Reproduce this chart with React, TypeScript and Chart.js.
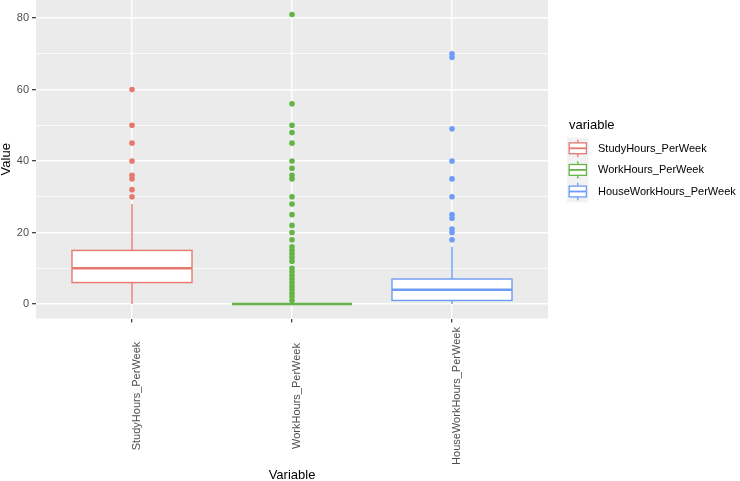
import React, { useEffect, useRef } from 'react';
import { Chart, registerables } from 'chart.js';

Chart.register(...registerables);

const categories = ['StudyHours_PerWeek', 'WorkHours_PerWeek', 'HouseWorkHours_PerWeek'];
const whiskerLow = [0, 0, 0];
const q1Values = [6, 0, 1];
const medianValues = [10, 0, 4];
const q3Values = [15, 0, 7];
const whiskerHigh = [28, 0, 16];
const studyOutliers = [30, 32, 35, 36, 40, 45, 50, 60];
const workOutliers = [1, 2, 3, 4, 5, 6, 7, 8, 9, 10, 12, 13, 14, 15, 16, 18, 20, 22, 25, 28, 30, 35, 36, 38, 40, 45, 48, 50, 56, 81];
const houseOutliers = [18, 20, 21, 24, 25, 30, 35, 40, 49, 69, 70];
const yTickValues = [0, 20, 40, 60, 80];
const yMinorValues = [10, 30, 50, 70];
const legendTitle = 'variable';
const xTitle = 'Variable';
const yTitle = 'Value';

const COLORS = ['#E5796F', '#65B446', '#6E9BF6'];
const FONT = '"Liberation Sans", Arial, Helvetica, sans-serif';

const outlierSets = [studyOutliers, workOutliers, houseOutliers];

const bgPlugin = {
  id: 'panelBg',
  beforeDraw(chart: any) {
    const { ctx, chartArea } = chart;
    ctx.save();
    ctx.fillStyle = '#FFFFFF';
    ctx.fillRect(0, 0, chart.width, chart.height);
    ctx.fillStyle = '#EBEBEB';
    ctx.fillRect(chartArea.left, chartArea.top, chartArea.right - chartArea.left, chartArea.bottom - chartArea.top);
    ctx.restore();
  },
};

const boxPlugin = {
  id: 'boxes',
  beforeDatasetsDraw(chart: any) {
    const { ctx, scales } = chart;
    const x = scales.x;
    const y = scales.y;
    ctx.save();
    categories.forEach((_, i) => {
      const cx = x.getPixelForValue(i + 1);
      const left = x.getPixelForValue(i + 1 - 0.375);
      const right = x.getPixelForValue(i + 1 + 0.375);
      const yLo = y.getPixelForValue(whiskerLow[i]);
      const yQ1 = y.getPixelForValue(q1Values[i]);
      const yMed = y.getPixelForValue(medianValues[i]);
      const yQ3 = y.getPixelForValue(q3Values[i]);
      const yHi = y.getPixelForValue(whiskerHigh[i]);
      ctx.strokeStyle = COLORS[i];
      ctx.lineWidth = 1.4;
      ctx.beginPath();
      ctx.moveTo(cx, yHi);
      ctx.lineTo(cx, yQ3);
      ctx.moveTo(cx, yQ1);
      ctx.lineTo(cx, yLo);
      ctx.stroke();
      ctx.fillStyle = '#FFFFFF';
      ctx.fillRect(left, yQ3, right - left, yQ1 - yQ3);
      ctx.strokeRect(left, yQ3, right - left, yQ1 - yQ3);
      ctx.lineWidth = 2.6;
      ctx.beginPath();
      ctx.moveTo(left, yMed);
      ctx.lineTo(right, yMed);
      ctx.stroke();
    });
    ctx.restore();
  },
};

const labelPlugin = {
  id: 'xLabels',
  afterDraw(chart: any) {
    const { ctx, scales, chartArea } = chart;
    const x = scales.x;
    ctx.save();
    ctx.fillStyle = '#4D4D4D';
    ctx.font = `11px ${FONT}`;
    ctx.textAlign = 'center';
    ctx.textBaseline = 'alphabetic';
    categories.forEach((c, i) => {
      const px = x.getPixelForValue(i + 1);
      ctx.save();
      ctx.translate(px + 8, chartArea.bottom + 77.5);
      ctx.rotate(-Math.PI / 2);
      ctx.fillText(c, 0, 0);
      ctx.restore();
    });
    ctx.restore();
  },
};

const legendPlugin = {
  id: 'boxLegend',
  afterDraw(chart: any) {
    const { ctx, chartArea } = chart;
    const lx = chartArea.right + 19;
    const cy = (chartArea.top + chartArea.bottom) / 2;
    const s = 21.6;
    const keysTop = cy - 21.75;
    ctx.save();
    ctx.fillStyle = '#000000';
    ctx.font = `13px ${FONT}`;
    ctx.textAlign = 'left';
    ctx.textBaseline = 'alphabetic';
    ctx.fillText(legendTitle, lx + 2, cy - 30);
    categories.forEach((c, i) => {
      const kt = keysTop + i * s;
      ctx.fillStyle = '#F2F2F2';
      ctx.fillRect(lx, kt, s, s);
      const bl = lx + 0.1 * s;
      const br = lx + 0.9 * s;
      const kcx = lx + s / 2;
      ctx.strokeStyle = COLORS[i];
      ctx.lineWidth = 1.3;
      ctx.beginPath();
      ctx.moveTo(kcx, kt + 0.1 * s);
      ctx.lineTo(kcx, kt + 0.25 * s);
      ctx.moveTo(kcx, kt + 0.75 * s);
      ctx.lineTo(kcx, kt + 0.9 * s);
      ctx.stroke();
      ctx.fillStyle = '#FFFFFF';
      ctx.fillRect(bl, kt + 0.25 * s, br - bl, 0.5 * s);
      ctx.strokeRect(bl, kt + 0.25 * s, br - bl, 0.5 * s);
      ctx.lineWidth = 1.8;
      ctx.beginPath();
      ctx.moveTo(bl, kt + 0.5 * s);
      ctx.lineTo(br, kt + 0.5 * s);
      ctx.stroke();
      ctx.fillStyle = '#000000';
      ctx.font = `11px ${FONT}`;
      ctx.textBaseline = 'middle';
      ctx.fillText(c, lx + 31, kt + s / 2 + 0.5);
      ctx.textBaseline = 'alphabetic';
    });
    ctx.restore();
  },
};

export default function App() {
  const canvasRef = useRef<HTMLCanvasElement | null>(null);

  useEffect(() => {
    if (!canvasRef.current) return;
    const datasets = outlierSets.map((vals, i) => ({
      label: categories[i],
      data: vals.map((v) => ({ x: i + 1, y: v })),
      backgroundColor: COLORS[i],
      borderColor: COLORS[i],
      borderWidth: 0,
      pointRadius: 2.8,
      pointHoverRadius: 2.8,
    }));
    const allY = [...yTickValues, ...yMinorValues].sort((a, b) => a - b);
    const chart = new Chart(canvasRef.current, {
      type: 'scatter',
      data: { datasets },
      options: {
        animation: false,
        responsive: false,
        devicePixelRatio: 1,
        layout: { autoPadding: false, padding: { left: 0, right: 192, top: 0, bottom: 0 } },
        plugins: {
          legend: { display: false },
          tooltip: { enabled: false },
        },
        scales: {
          x: {
            type: 'linear',
            min: 0.4,
            max: 3.6,
            afterBuildTicks: (s: any) => {
              s.ticks = categories.map((_, i) => ({ value: i + 1 }));
            },
            afterFit: (s: any) => {
              s.height = 162.5;
              s.paddingLeft = 0;
              s.paddingRight = 0;
            },
            ticks: { display: false, autoSkip: false },
            grid: {
              color: '#FFFFFF',
              lineWidth: 1.4,
              drawTicks: true,
              tickLength: 4,
              tickColor: '#333333',
              tickWidth: 1.2,
            },
            border: { display: false },
            title: {
              display: true,
              text: xTitle,
              color: '#000000',
              font: { size: 13, family: FONT, lineHeight: 1 },
              padding: { top: 0, bottom: -1 },
            },
          },
          y: {
            type: 'linear',
            min: -4.05,
            max: 85.05,
            afterBuildTicks: (s: any) => {
              s.ticks = allY.map((v) => ({ value: v }));
            },
            afterFit: (s: any) => {
              s.width = 36;
              s.paddingTop = 0;
              s.paddingBottom = 0;
            },
            ticks: {
              autoSkip: false,
              color: '#4D4D4D',
              font: { size: 11, family: FONT },
              padding: 3,
              callback: (v: any) => (yTickValues.includes(Number(v)) ? String(v) : ''),
            },
            grid: {
              color: '#FFFFFF',
              lineWidth: (c: any) => (c.tick && yTickValues.includes(c.tick.value) ? 1.4 : 0.7),
              drawTicks: true,
              tickLength: 4,
              tickColor: (c: any) => (c.tick && yTickValues.includes(c.tick.value) ? '#333333' : 'rgba(0,0,0,0)'),
              tickWidth: 1.2,
            },
            border: { display: false },
            title: {
              display: true,
              text: yTitle,
              color: '#000000',
              font: { size: 13, family: FONT, lineHeight: 1 },
              padding: { top: 0, bottom: 0 },
            },
          },
        },
      },
      plugins: [bgPlugin, boxPlugin, labelPlugin, legendPlugin],
    } as any);
    return () => chart.destroy();
  }, []);

  return (
    <div style={{ position: 'fixed', left: 0, top: 0, width: 740, height: 481, background: '#FFFFFF' }}>
      <canvas ref={canvasRef} width={740} height={481} style={{ display: 'block', width: 740, height: 481 }} />
    </div>
  );
}
